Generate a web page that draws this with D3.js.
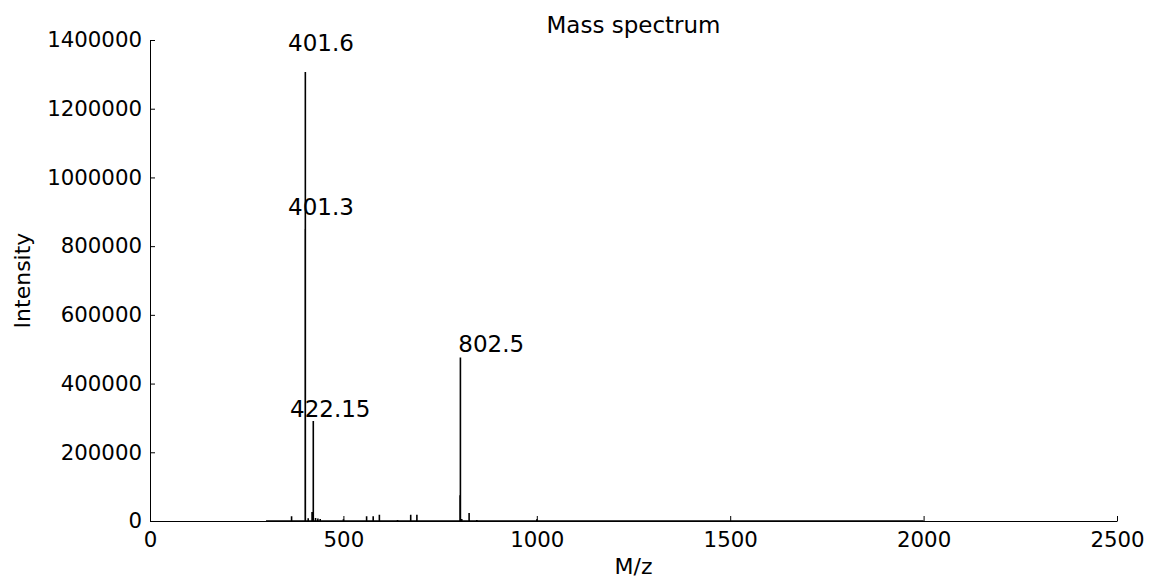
<!DOCTYPE html>
<html>
<head>
<meta charset="utf-8">
<script src="https://cdn.jsdelivr.net/npm/d3@7"></script>
<style>
  body { margin: 0; background: #fff; }
  text { font-family: "DejaVu Sans", sans-serif; fill: #000; }
</style>
</head>
<body>
<div id="chart"></div>
<script>
// Stick peaks (m/z, intensity)
const peakMz = [366, 401.3, 401.6, 409, 419, 422.15, 428, 434, 440, 500, 560, 577, 593, 640, 674, 690, 801.5, 802.5, 806, 825, 845, 1000];
const peakIntensity = [14000, 850000, 1307000, 8000, 26000, 291000, 9000, 7000, 6000, 5000, 14000, 14000, 18000, 3000, 18000, 18000, 75000, 476000, 6000, 23000, 3000, 5000];

// Labels: text and anchor point in data units
const labelText = ["401.6", "401.3", "422.15", "802.5"];
const labelMz = [357, 357, 362, 797];
const labelInt = [1367000, 891000, 303000, 491000];

const xTicks = [0, 500, 1000, 1500, 2000, 2500];
const yTicks = [0, 200000, 400000, 600000, 800000, 1000000, 1200000, 1400000];
const spectrumStart = 300, spectrumEnd = 2000;

const width = 1149, height = 580;
const margin = { top: 40, right: 32, bottom: 59, left: 150 };

const svg = d3.select("#chart")
  .append("svg")
  .attr("width", width)
  .attr("height", height);

const x = d3.scaleLinear().domain([0, 2500]).range([margin.left, width - margin.right]);
const y = d3.scaleLinear().domain([0, 1400000]).range([height - margin.bottom, margin.top]);

// Spectrum as one line: baseline with vertical sticks
const pts = [[spectrumStart, 0]];
peakMz.forEach((m, i) => {
  pts.push([m, 0], [m, peakIntensity[i]], [m, 0]);
});
pts.push([spectrumEnd, 0]);

svg.append("path")
  .datum(pts)
  .attr("fill", "none")
  .attr("stroke", "#000")
  .attr("stroke-width", 1.6)
  .attr("d", d3.line().x(d => x(d[0])).y(d => y(d[1])));

// Axes (ticks pointing inward, only left and bottom spines)
const xAxis = svg.append("g")
  .attr("transform", `translate(0,${y(0)})`)
  .call(d3.axisBottom(x).tickValues(xTicks).tickSizeInner(-5).tickSizeOuter(0).tickPadding(9).tickFormat(d3.format("d")));
const yAxis = svg.append("g")
  .attr("transform", `translate(${x(0)},0)`)
  .call(d3.axisLeft(y).tickValues(yTicks).tickSizeInner(-5).tickSizeOuter(0).tickPadding(8).tickFormat(d3.format("d")));

[xAxis, yAxis].forEach(g => {
  g.selectAll("text").style("font-size", "21.3px").style("font-family", "DejaVu Sans");
  g.select(".domain").attr("stroke", "#000");
  g.selectAll(".tick line").attr("stroke", "#000");
});
xAxis.selectAll("text").attr("dy", "0.8em");

// Peak labels
svg.selectAll(".peak-label")
  .data(labelText)
  .enter()
  .append("text")
  .attr("class", "peak-label")
  .attr("x", (d, i) => x(labelMz[i]))
  .attr("y", (d, i) => y(labelInt[i]))
  .style("font-size", "23px")
  .text(d => d);

// Title and axis labels
svg.append("text")
  .attr("x", (margin.left + width - margin.right) / 2)
  .attr("y", 33)
  .attr("text-anchor", "middle")
  .style("font-size", "23px")
  .text("Mass spectrum");

svg.append("text")
  .attr("x", (margin.left + width - margin.right) / 2)
  .attr("y", 574)
  .attr("text-anchor", "middle")
  .style("font-size", "22px")
  .text("M/z");

svg.append("text")
  .attr("transform", `translate(30,${(margin.top + height - margin.bottom) / 2}) rotate(-90)`)
  .attr("text-anchor", "middle")
  .style("font-size", "22px")
  .text("Intensity");
</script>
</body>
</html>
